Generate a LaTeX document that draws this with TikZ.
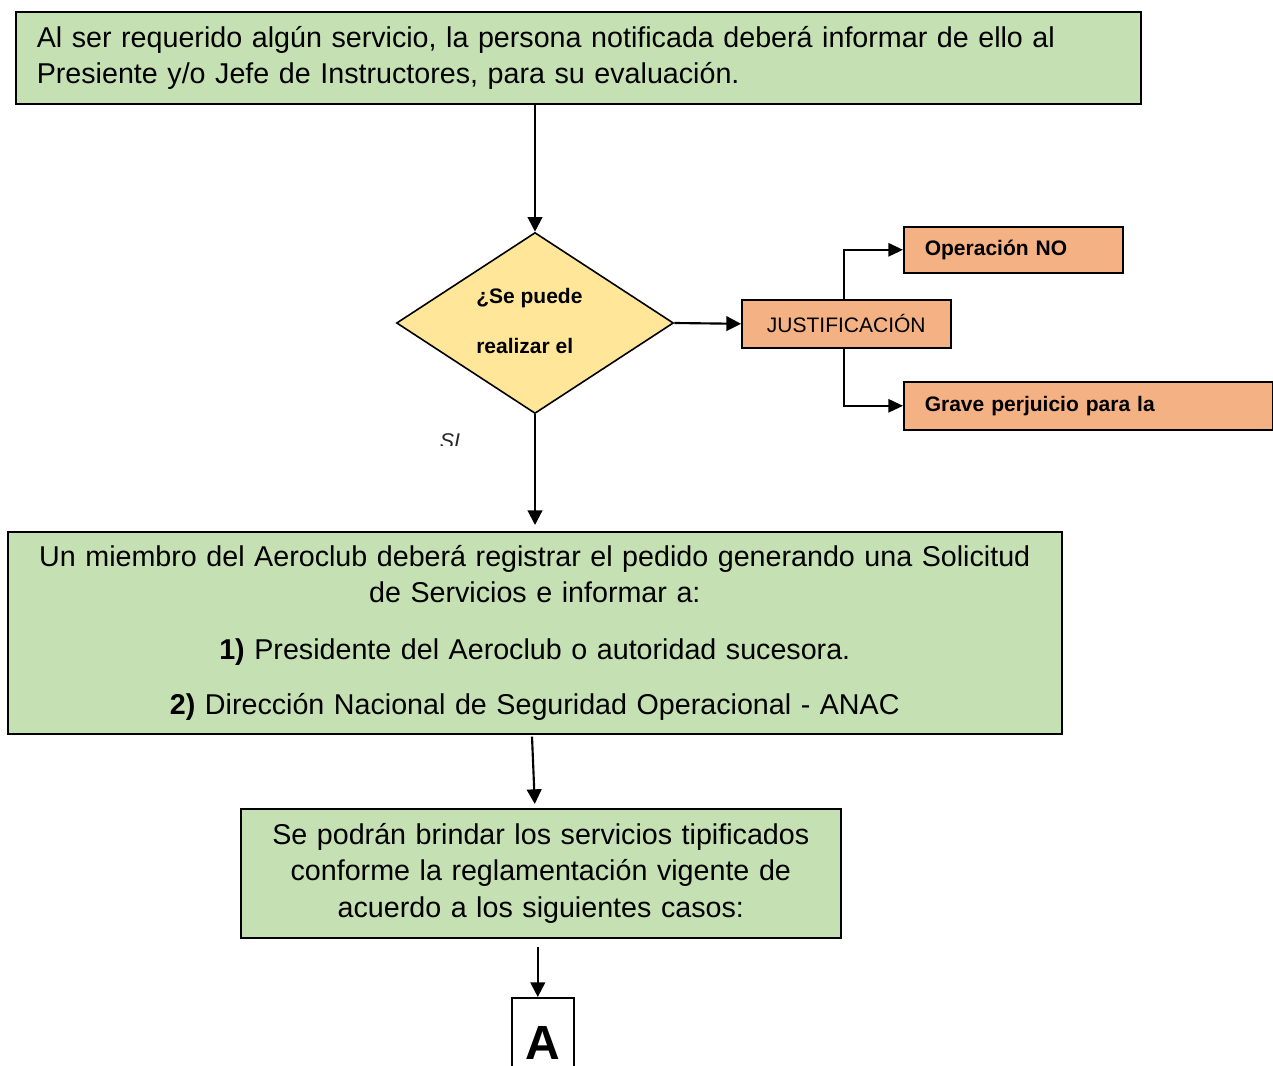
\documentclass[tikz,border=0pt]{standalone}
\usepackage{fontspec}
\setmainfont{Liberation Sans}
\usetikzlibrary{arrows.meta,positioning,shapes.geometric,calc}
\definecolor{boxgreen}{HTML}{C5E0B3}
\definecolor{askyellow}{HTML}{FFE699}
\definecolor{justorange}{HTML}{F4B183}
\newcommand{\txtbig}{\fontsize{21.5}{27.5}\selectfont}
\newcommand{\txtmid}{\fontsize{15.75}{18}\selectfont}
\newcommand{\txtletter}{\fontsize{36}{40}\selectfont}

\begin{document}
\begin{tikzpicture}[x=0.75pt,y=-0.75pt,
 greenbox/.style={draw,line width=1.2pt,fill=boxgreen,anchor=north west,inner sep=0pt},
 orangebox/.style={draw,line width=1.2pt,fill=justorange,anchor=north west,inner sep=0pt},
 arr/.style={line width=1.6pt,-{Triangle[length=11pt,width=11pt]}},
 elbow/.style={line width=1.5pt,-{Triangle[length=11pt,width=10pt]}}]
 \useasboundingbox (0,0) rectangle (1273,1066);
 % first step
 \node[greenbox,minimum width=843.75pt,minimum height=69pt,text width=812.25pt,
   inner xsep=15.75pt,align=left,font=\txtbig] (intro) at (15,11)
   {Al ser requerido algún servicio, la persona notificada deberá informar de ello al\\
    Presiente y/o Jefe de Instructores, para su evaluación.};
 \node[diamond,draw,line width=1.2pt,fill=askyellow,minimum width=207.75pt,
   minimum height=135.75pt,inner sep=0pt] (ask) at (535,323) {};
 \node[align=left,font=\txtmid\bfseries,anchor=west,inner sep=0pt] (asktext) at (476,321)
   {¿Se puede\\[19.5pt]realizar el};
 % justification branch
 \node[orangebox,minimum width=156.75pt,minimum height=36pt,font=\txtmid] (just) at (741,299)
   {JUSTIFICACIÓN};
 \node[orangebox,minimum width=164.25pt,minimum height=34.5pt,text width=132.75pt,
   inner xsep=15.75pt,align=left,font=\txtmid\bfseries] (opno) at (903,226)
   {Operación NO};
 \node[orangebox,minimum width=276.75pt,minimum height=36pt,text width=245.25pt,
   inner xsep=15.75pt,align=left,font=\txtmid\bfseries] (grave) at (903,381)
   {Grave perjuicio para la};
 \begin{scope}
  \clip (425,424) rectangle (475,445);
  \node[font=\fontsize{16}{18}\selectfont\itshape,text=black!85,anchor=base] (yes) at (450,448) {SI};
 \end{scope}
 % registration
 \node[greenbox,minimum width=790.5pt,minimum height=151.5pt,text width=780pt,
   align=center,font=\txtbig] (register) at (7,531)
   {Un miembro del Aeroclub deberá registrar el pedido generando una Solicitud\\
    de Servicios e informar a:\\[15.25pt]
    \textbf{1)} Presidente del Aeroclub o autoridad sucesora.\\[13.75pt]
    \textbf{2)} Dirección Nacional de Seguridad Operacional - ANAC};
 \node[greenbox,minimum width=450pt,minimum height=96.75pt,text width=440pt,
   align=center,font=\txtbig] (services) at (240,808)
   {Se podrán brindar los servicios tipificados\\
    conforme la reglamentación vigente de\\
    acuerdo a los siguientes casos:};
 \node[draw,line width=1.2pt,fill=white,anchor=north west,minimum width=46.5pt,
   minimum height=67.5pt,inner sep=0pt,font=\txtletter\bfseries] (letterA) at (511,997) {A};
 % connectors
 \draw[arr] (ask.north |- intro.south) -- (ask.north);
 \draw[arr] (ask.east) -- (just.west);
 \draw[elbow] ($(just.north)+(-2,0)$) |- (opno.west);
 \draw[elbow] ($(just.south)+(-2,0)$) |- (grave.west);
 \draw[arr] (ask.south) -- ($(ask.south |- register.north)+(0,-6)$);
 \draw[arr] ($(ask.south |- register.south)+(-3,2)$) -- ($(services.north)+(-6,-4)$);
 \draw[arr] ($(services.south)+(-3,8)$) -- ($(letterA.north)+(-5,0)$);
\end{tikzpicture}
\end{document}
